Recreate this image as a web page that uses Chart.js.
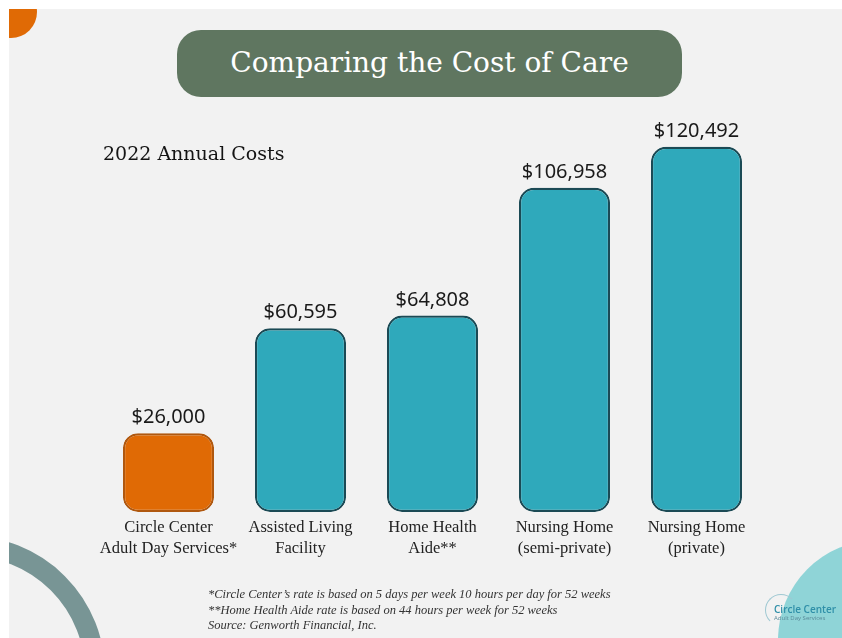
<!DOCTYPE html>
<html lang="en">
<head>
  <meta charset="UTF-8">
  <title>Comparing the Cost of Care</title>
  <script src="https://cdn.jsdelivr.net/npm/chart.js"></script>
  <style>
    html, body {
      margin: 0;
      padding: 0;
      background: #ffffff;
      width: 842px;
      height: 638px;
      overflow: hidden;
    }

    .page {
      position: absolute;
      left: 9px;
      top: 9px;
      width: 833px;
      height: 629px;
      background: #f2f2f2;
      overflow: hidden;
    }

    .dot {
      position: absolute;
      left: -24px;
      top: -23px;
      width: 52px;
      height: 52px;
      border-radius: 50%;
      background: #e06a05;
    }

    .arc {
      position: absolute;
      left: -178px;
      top: 527px;
      width: 234px;
      height: 234px;
      border-radius: 50%;
      border: 20px solid #789595;
    }

    .blob {
      position: absolute;
      left: 769px;
      top: 531px;
      width: 200px;
      height: 200px;
      border-radius: 50%;
      background: #8fd4d7;
    }

    .title-box {
      position: absolute;
      left: 177px;
      top: 30px;
      width: 505px;
      height: 67px;
      border-radius: 24px;
      background: #5f7660;
      color: #ffffff;
      font-family: "DejaVu Serif", serif;
      font-size: 28px;
      line-height: 65px;
      text-align: center;
      z-index: 2;
    }

    .subtitle {
      position: absolute;
      left: 103px;
      top: 142px;
      font-family: "DejaVu Serif", serif;
      font-size: 19px;
      color: #141414;
      z-index: 2;
    }

    .notes {
      position: absolute;
      left: 208px;
      top: 587px;
      font-family: "Liberation Serif", serif;
      font-style: italic;
      font-size: 12.5px;
      line-height: 15.5px;
      color: #333333;
      z-index: 2;
    }

    .logo {
      position: absolute;
      left: 774px;
      top: 604px;
      font-family: "Open Sans", sans-serif;
      z-index: 2;
    }
    .logo .name { font-size: 10px; font-weight: 600; color: #2f8fa8; line-height: 11px; }
    .logo .sub { font-size: 6px; color: #5a8a99; line-height: 7px; }
    .logo .ring {
      position: absolute;
      left: -9px;
      top: -10px;
      width: 30px;
      height: 30px;
      border-radius: 50%;
      border: 1px solid transparent;
      border-left-color: #9fc8d2;
      border-top-color: #9fc8d2;
    }

    .chart-box {
      position: absolute;
      left: 0;
      top: 0;
      width: 842px;
      height: 638px;
      z-index: 1;
    }
  </style>
</head>
<body>
  <div class="page">
    <div class="dot"></div>
    <div class="arc"></div>
    <div class="blob"></div>
  </div>

  <div class="chart-box">
    <canvas id="chart" width="842" height="638"></canvas>
  </div>

  <div class="title-box">Comparing the Cost of Care</div>
  <div class="subtitle">2022 Annual Costs</div>

  <div class="notes">
    *Circle Center’s rate is based on 5 days per week 10 hours per day for 52 weeks<br>
    **Home Health Aide rate is based on 44 hours per week for 52 weeks<br>
    Source: Genworth Financial, Inc.
  </div>

  <div class="logo">
    <div class="ring"></div>
    <div class="name">Circle Center</div>
    <div class="sub">Adult Day Services</div>
  </div>

  <script>
    // datos del grafico
    const categories = [
      ['Circle Center', 'Adult Day Services*'],
      ['Assisted Living', 'Facility'],
      ['Home Health', 'Aide**'],
      ['Nursing Home', '(semi-private)'],
      ['Nursing Home', '(private)']
    ];
    const annualCosts = [26000, 60595, 64808, 106958, 120492];
    const barColors = ['#e06a05', '#2fa9bb', '#2fa9bb', '#2fa9bb', '#2fa9bb'];
    const edgeColors = ['#b0580f', '#1b4a55', '#1b4a55', '#1b4a55', '#1b4a55'];

    const valueLabels = {
      id: 'valueLabels',
      afterDatasetsDraw(chart) {
        const ctx = chart.ctx;
        const meta = chart.getDatasetMeta(0);
        ctx.save();
        ctx.font = '20px "Noto Sans", sans-serif';
        ctx.fillStyle = '#1a1a1a';
        ctx.textAlign = 'center';
        ctx.textBaseline = 'alphabetic';
        meta.data.forEach((bar, i) => {
          ctx.fillText('$' + annualCosts[i].toLocaleString('en-US'), bar.x, bar.y - 10);
        });
        ctx.restore();
      }
    };

    const ctx = document.getElementById('chart').getContext('2d');
    new Chart(ctx, {
      type: 'bar',
      data: {
        labels: categories,
        datasets: [{
          data: annualCosts,
          backgroundColor: barColors,
          borderColor: edgeColors,
          borderWidth: 2.2,
          borderRadius: 15,
          borderSkipped: false,
          categoryPercentage: 1,
          barPercentage: 0.69
        }]
      },
      options: {
        responsive: false,
        animation: false,
        layout: {
          padding: { top: 118, left: 102.5, right: 79.5, bottom: 66 }
        },
        plugins: {
          legend: { display: false },
          tooltip: { enabled: false }
        },
        scales: {
          x: {
            grid: { display: false, drawTicks: false },
            border: { display: false },
            ticks: {
              color: '#222222',
              padding: 6,
              autoSkip: false,
              maxRotation: 0,
              minRotation: 0,
              font: { family: '"Liberation Serif", serif', size: 16.5, lineHeight: 1.22 }
            },
            afterFit: (scale) => { scale.height = 60; }
          },
          y: {
            display: false,
            min: 0,
            max: 130000
          }
        }
      },
      plugins: [valueLabels]
    });
  </script>
</body>
</html>
